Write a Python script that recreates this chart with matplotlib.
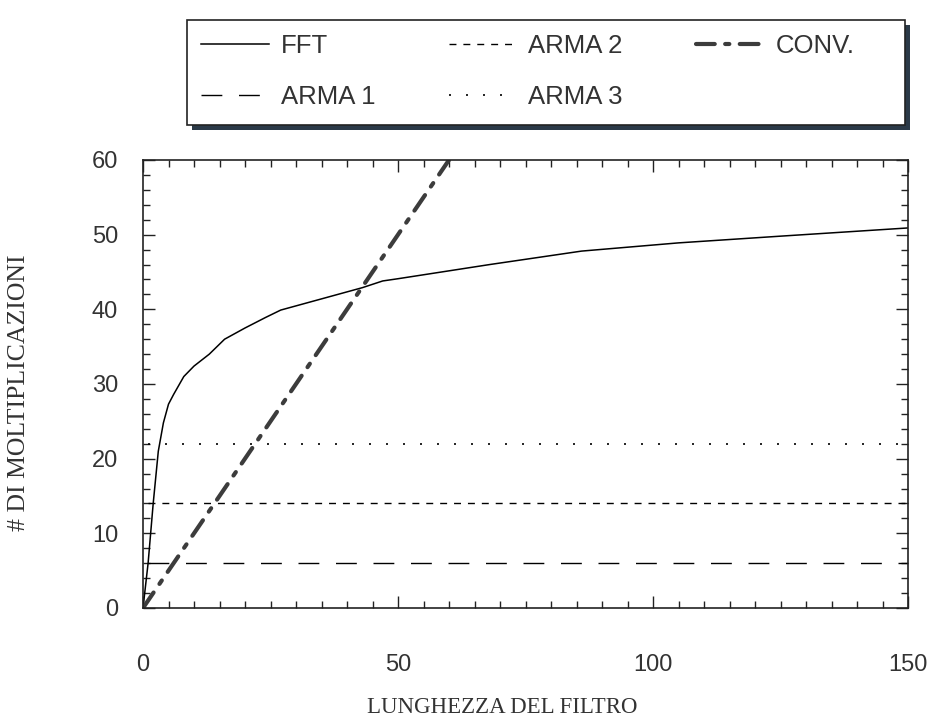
import numpy as np
import matplotlib.pyplot as plt
from matplotlib.patches import Rectangle

# ──────────────────────────────────────────────
# Dati
# ──────────────────────────────────────────────
fft_x = [0, 1, 2, 3, 4, 5, 6, 8, 10, 13, 16, 20, 24, 27, 35, 43, 47, 50, 68, 86, 105, 125, 150]
fft_y = [0, 6, 14, 21, 24.8, 27.3, 28.6, 31.0, 32.4, 34.0, 36.0, 37.5, 38.9, 39.9, 41.4, 42.9,
         43.8, 44.1, 46, 47.8, 48.9, 49.8, 50.9]

conv_x = [0, 60]
conv_y = [0, 60]

arma_x = [1, 150]
arma1 = [6, 6]
arma2 = [14, 14]
arma3 = [22, 22]

xticks = [0, 50, 100, 150]
yticks = [0, 10, 20, 30, 40, 50, 60]

# ──────────────────────────────────────────────
# Figura
# ──────────────────────────────────────────────
W, H = 939, 727
sans = ["Liberation Sans", "DejaVu Sans"]
serif = ["Liberation Serif", "DejaVu Serif"]

fig = plt.figure(figsize=(W / 100, H / 100), dpi=100)
ax = fig.add_axes([143 / W, 1 - 608 / H, 765 / W, 448 / H])

h_fft, = ax.plot(fft_x, fft_y, color="black", lw=1.1, label="FFT")
h_a1, = ax.plot(arma_x, arma1, color="black", lw=1.0, dashes=(15, 12), label="ARMA 1")
h_a2, = ax.plot(arma_x, arma2, color="black", lw=1.0, dashes=(5, 5), label="ARMA 2")
h_a3, = ax.plot(arma_x, arma3, color="black", lw=1.2, dashes=(1.2, 9), label="ARMA 3")
h_conv, = ax.plot(conv_x, conv_y, color="#3c3c3c", lw=3.0, dashes=(4.5, 2.5, 1, 2.5),
                  dash_capstyle="round", label="CONV.")

ax.set_xlim(0, 150)
ax.set_ylim(0, 60)
ax.set_xticks(xticks)
ax.set_yticks(yticks)
ax.set_xticks(np.arange(0, 151, 5), minor=True)
ax.set_yticks(np.arange(0, 61, 2), minor=True)
ax.tick_params(which="both", direction="in", top=True, right=True, width=1.0, color="#222")
ax.tick_params(which="major", length=8.5)
ax.tick_params(which="minor", length=5)
ax.tick_params(axis="x", which="major", pad=33, labelsize=17, labelcolor="#333")
ax.tick_params(axis="y", which="major", pad=18, labelsize=17, labelcolor="#333")
for lab in ax.get_xticklabels() + ax.get_yticklabels():
    lab.set_family(sans)
for sp in ax.spines.values():
    sp.set_linewidth(1.2)
    sp.set_color("#222")

ax.set_xlabel("LUNGHEZZA DEL FILTRO", family=serif, fontsize=16.5, color="#333")
ax.set_ylabel("# DI MOLTIPLICAZIONI", family=serif, fontsize=18.5, color="#333")
ax.xaxis.set_label_coords(0.47, -0.198)
ax.yaxis.set_label_coords(-0.148, 0.48)

# riquadro della legenda con ombra (disegnato a mano)
bx0, by0, bx1, by1 = 187, 20, 905, 125
fig.patches.append(Rectangle(((bx0 + 5) / W, 1 - (by1 + 5) / H), (bx1 - bx0) / W, (by1 - by0) / H,
                             transform=fig.transFigure, facecolor="#2b3a48", edgecolor="none",
                             zorder=0))
fig.patches.append(Rectangle((bx0 / W, 1 - by1 / H), (bx1 - bx0) / W, (by1 - by0) / H,
                             transform=fig.transFigure, facecolor="white", edgecolor="#222",
                             lw=1.2, zorder=1))

leg = fig.legend(handles=[h_fft, h_a1, h_a2, h_a3, h_conv], ncol=3, loc="upper left",
                 bbox_to_anchor=(bx0 / W, 1 - by0 / H), borderaxespad=0,
                 prop={"family": sans, "size": 18.5}, frameon=False,
                 handlelength=2.65, handletextpad=0.45, labelspacing=1.05, borderpad=0.55,
                 columnspacing=2.85)
for t in leg.get_texts():
    t.set_color("#333")

plt.savefig("out.png", dpi=100)
plt.close()
